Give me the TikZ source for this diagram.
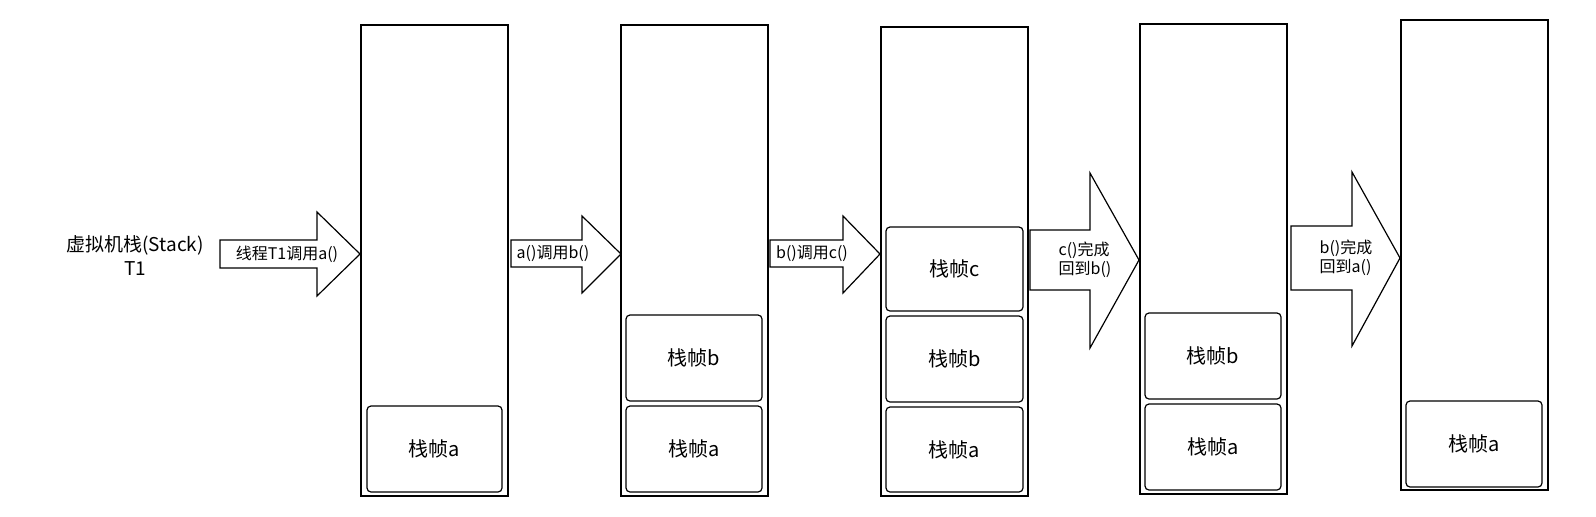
\documentclass[tikz,border=0pt]{standalone}
\usepackage{fontspec}
\setmainfont{Noto Sans CJK SC}
\begin{document}
\begin{tikzpicture}[x=0.5pt,y=-0.5pt]
\tikzset{stackbox/.style={draw, line width=0.6pt},
  framebox/.style={draw, rounded corners=2pt, line width=0.6pt, font=\fontsize{10}{12}\selectfont},
  blockarrow/.style={draw, line width=0.6pt, fill=white},
  arrowlabel/.style={font=\fontsize{8}{9.5}\selectfont, align=left, inner sep=0pt}}
\useasboundingbox (0,0) rectangle (1596,516);

% stacks
\draw [stackbox] (361,25) rectangle (508,496);
\draw [stackbox] (621,25) rectangle (768,496);
\draw [stackbox] (881,27) rectangle (1028,496);
\draw [stackbox] (1140,24) rectangle (1287,494);
\draw [stackbox] (1401,20) rectangle (1548,490);

% frames
\draw [framebox] (367,406) rectangle node (A1) {栈帧a} (502,492);
\draw [framebox] (626,315) rectangle node (B2) {栈帧b} (762,401);
\draw [framebox] (626,406) rectangle node (A2) {栈帧a} (762,492);
\draw [framebox] (886,227) rectangle node (C3) {栈帧c} (1023,311);
\draw [framebox] (886,316) rectangle node (B3) {栈帧b} (1023,402);
\draw [framebox] (886,407) rectangle node (A3) {栈帧a} (1023,492);
\draw [framebox] (1145,313) rectangle node (B4) {栈帧b} (1281,399);
\draw [framebox] (1145,404) rectangle node (A4) {栈帧a} (1281,490);
\draw [framebox] (1406,401) rectangle node (A5) {栈帧a} (1542,487);

% block arrows
\draw [blockarrow] (220,240) -- (317,240) -- (317,212) -- (360,254) -- (317,296) -- (317,268) -- (220,268) -- cycle;
\draw [blockarrow] (511,240) -- (582,240) -- (582,216) -- (621,254) -- (582,293) -- (582,267) -- (511,267) -- cycle;
\draw [blockarrow] (770,240) -- (843,240) -- (843,216) -- (880,254) -- (843,293) -- (843,267) -- (770,267) -- cycle;
\draw [blockarrow] (1030,230) -- (1090,230) -- (1090,173) -- (1139,260) -- (1090,348) -- (1090,290) -- (1030,290) -- cycle;
\draw [blockarrow] (1291,226) -- (1352,226) -- (1352,172) -- (1400,258) -- (1352,346) -- (1352,290) -- (1291,290) -- cycle;

\node [arrowlabel] (L1) at (287,254) {线程T1调用a()};
\node [arrowlabel] (L2) at (553,254) {a()调用b()};
\node [arrowlabel] (L3) at (812,254) {b()调用c()};
\node [arrowlabel] (L4) at (1085,260) {c()完成\\回到b()};
\node [arrowlabel] (L5) at (1346,258) {b()完成\\回到a()};

\node [align=center, font=\fontsize{9.5}{12}\selectfont] (VM) at (135,256) {虚拟机栈(Stack)\\T1};
\end{tikzpicture}
\end{document}
